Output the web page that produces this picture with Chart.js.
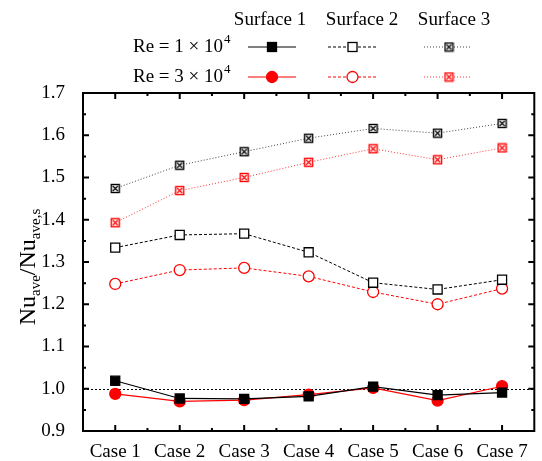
<!DOCTYPE html>
<html>
<head>
<meta charset="utf-8">
<script src="https://cdn.jsdelivr.net/npm/chart.js@4/dist/chart.umd.min.js"></script>
<style>
  body { margin: 0; background: #fff; }
  #wrap { width: 542px; height: 461px; }
</style>
</head>
<body>
<div id="wrap"><canvas id="myChart"></canvas></div>
<script>
var cases = ['Case 1', 'Case 2', 'Case 3', 'Case 4', 'Case 5', 'Case 6', 'Case 7'];
var yTicks = [0.9, 1.0, 1.1, 1.2, 1.3, 1.4, 1.5, 1.6, 1.7];

// Re = 1e4 (black) and Re = 3e4 (red), three surfaces
var s1Re1 = [1.019, 0.977, 0.976, 0.982, 1.005, 0.985, 0.991];
var s1Re3 = [0.988, 0.970, 0.973, 0.986, 1.002, 0.972, 1.006];
var s2Re1 = [1.334, 1.364, 1.367, 1.323, 1.251, 1.235, 1.258];
var s2Re3 = [1.248, 1.281, 1.286, 1.266, 1.229, 1.200, 1.237];
var s3Re1 = [1.474, 1.529, 1.561, 1.593, 1.616, 1.605, 1.628];
var s3Re3 = [1.393, 1.469, 1.500, 1.536, 1.568, 1.542, 1.570];
var refLine = 1.0;

var serif = "'Liberation Serif', 'Times New Roman', serif";
var RED = '#ff0000';

// boxed-cross marker for surface 3
function crossBox(color) {
  var c = document.createElement('canvas');
  c.width = 11; c.height = 11;
  var g = c.getContext('2d');
  g.fillStyle = '#fff';
  g.fillRect(1, 1, 9, 9);
  g.strokeStyle = color;
  g.lineWidth = 1.4;
  g.strokeRect(1.5, 1.5, 8, 8);
  g.lineWidth = 1.2;
  g.beginPath();
  g.moveTo(3, 3); g.lineTo(8, 8);
  g.moveTo(8, 3); g.lineTo(3, 8);
  g.stroke();
  return c;
}
var boxBlack = crossBox('#000');
var boxRed = crossBox(RED);

var styles = {
  s1Re1: { color: '#000', dash: [], width: 1.2, point: 'rect', r: 6.4, fill: '#000' },
  s1Re3: { color: RED, dash: [], width: 1.2, point: 'circle', r: 5.5, fill: RED },
  s2Re1: { color: '#000', dash: [3, 2], width: 1, point: 'rect', r: 6.4, fill: '#fff' },
  s2Re3: { color: RED, dash: [3, 2], width: 1, point: 'circle', r: 5.5, fill: '#fff' },
  s3Re1: { color: 'rgba(0,0,0,0.75)', dash: [1, 2], width: 1, point: boxBlack, r: 5.5, fill: '#fff' },
  s3Re3: { color: 'rgba(255,0,0,0.8)', dash: [1, 2], width: 1, point: boxRed, r: 5.5, fill: '#fff' }
};

function ds(label, data, st, mark) {
  return {
    label: label,
    data: data,
    borderColor: st.color,
    borderWidth: st.width,
    borderDash: st.dash,
    pointStyle: st.point,
    pointRadius: st.r,
    pointHoverRadius: st.r,
    pointBackgroundColor: st.fill,
    pointBorderColor: mark,
    pointBorderWidth: 1.3,
    tension: 0,
    fill: false
  };
}

// frame, inward ticks, reference line
var framePlugin = {
  id: 'frame',
  beforeDatasetsDraw: function(chart) {
    var ctx = chart.ctx, a = chart.chartArea;
    var y = chart.scales.y;
    var py = Math.round(y.getPixelForValue(refLine)) + 0.5;
    ctx.save();
    ctx.strokeStyle = '#000';
    ctx.lineWidth = 1;
    ctx.setLineDash([2, 2]);
    ctx.beginPath();
    ctx.moveTo(a.left, py); ctx.lineTo(a.right, py);
    ctx.stroke();
    ctx.restore();
  },
  afterDraw: function(chart) {
    var ctx = chart.ctx, a = chart.chartArea;
    var x = chart.scales.x, y = chart.scales.y;
    ctx.save();
    ctx.strokeStyle = '#000';
    ctx.lineWidth = 2;
    ctx.strokeRect(a.left, a.top, a.right - a.left, a.bottom - a.top);
    ctx.beginPath();
    yTicks.forEach(function(v, i) {
      var p = y.getPixelForValue(v);
      ctx.moveTo(a.left, p); ctx.lineTo(a.left + 6, p);
      ctx.moveTo(a.right, p); ctx.lineTo(a.right - 6, p);
      if (i < yTicks.length - 1) {
        var m = y.getPixelForValue(v + 0.05);
        ctx.moveTo(a.left, m); ctx.lineTo(a.left + 3, m);
        ctx.moveTo(a.right, m); ctx.lineTo(a.right - 3, m);
      }
    });
    cases.forEach(function(c, i) {
      var p = x.getPixelForValue(i);
      ctx.moveTo(p, a.bottom); ctx.lineTo(p, a.bottom - 6);
      ctx.moveTo(p, a.top); ctx.lineTo(p, a.top + 6);
      if (i < cases.length - 1) {
        var m = (p + x.getPixelForValue(i + 1)) / 2;
        ctx.moveTo(m, a.bottom); ctx.lineTo(m, a.bottom - 3);
        ctx.moveTo(m, a.top); ctx.lineTo(m, a.top + 3);
      }
    });
    ctx.stroke();

    // y axis title with subscripts
    var parts = [['Nu', 24, 0], ['ave', 15, 5], ['/', 24, 0], ['Nu', 24, 0], ['ave,s', 15, 5]];
    var total = 0;
    parts.forEach(function(p) { ctx.font = p[1] + 'px ' + serif; total += ctx.measureText(p[0]).width; });
    ctx.translate(35, (a.top + a.bottom) / 2 + 5);
    ctx.rotate(-Math.PI / 2);
    ctx.fillStyle = '#000';
    ctx.textBaseline = 'alphabetic';
    var cx = -total / 2;
    parts.forEach(function(p) {
      ctx.font = p[1] + 'px ' + serif;
      ctx.fillText(p[0], cx, p[2]);
      cx += ctx.measureText(p[0]).width;
    });
    ctx.restore();
  }
};

function drawMark(ctx, st, mx, my, stroke) {
  ctx.save();
  ctx.setLineDash([]);
  ctx.lineWidth = 1.3;
  ctx.strokeStyle = stroke;
  ctx.fillStyle = st.fill;
  if (st.point === 'rect') {
    ctx.fillRect(mx - 4.5, my - 4.5, 9, 9);
    ctx.strokeRect(mx - 4.5, my - 4.5, 9, 9);
  } else if (st.point === 'circle') {
    ctx.beginPath();
    ctx.arc(mx, my, st.r, 0, Math.PI * 2);
    ctx.fill(); ctx.stroke();
  } else {
    ctx.drawImage(st.point, mx - 5.5, my - 5.5);
  }
  ctx.restore();
}

// custom legend table above the plot
var legendPlugin = {
  id: 'tableLegend',
  afterDraw: function(chart) {
    var ctx = chart.ctx;
    ctx.save();
    ctx.fillStyle = '#000';
    ctx.font = '19px ' + serif;
    ctx.textBaseline = 'middle';
    ctx.textAlign = 'center';
    var cols = [270, 362, 454];
    ['Surface 1', 'Surface 2', 'Surface 3'].forEach(function(t, i) { ctx.fillText(t, cols[i], 20); });

    var rows = [{ y: 47, n: '1', keys: ['s1Re1', 's2Re1', 's3Re1'], c: '#000' },
                { y: 77, n: '3', keys: ['s1Re3', 's2Re3', 's3Re3'], c: RED }];
    var lineX = [[248, 296, 272], [328, 377, 352.5], [424, 472, 449]];
    rows.forEach(function(r) {
      ctx.textAlign = 'left';
      ctx.font = '19px ' + serif;
      var base = 'Re = ' + r.n + ' \u00d7 10';
      ctx.fillText(base, 133, r.y);
      var w = ctx.measureText(base).width;
      ctx.font = '13px ' + serif;
      ctx.fillText('4', 133 + w + 1, r.y - 7);
      r.keys.forEach(function(k, i) {
        var st = styles[k];
        ctx.save();
        ctx.strokeStyle = st.color;
        ctx.lineWidth = st.width;
        ctx.setLineDash(st.dash);
        ctx.beginPath();
        ctx.moveTo(lineX[i][0], r.y); ctx.lineTo(lineX[i][1], r.y);
        ctx.stroke();
        ctx.restore();
        drawMark(ctx, st, lineX[i][2], r.y, r.c);
      });
    });
    ctx.restore();
  }
};

var data = {
  labels: cases,
  datasets: [
    ds('Surface 1, Re = 1e4', s1Re1, styles.s1Re1, '#000'),
    ds('Surface 1, Re = 3e4', s1Re3, styles.s1Re3, RED),
    ds('Surface 2, Re = 1e4', s2Re1, styles.s2Re1, '#000'),
    ds('Surface 2, Re = 3e4', s2Re3, styles.s2Re3, RED),
    ds('Surface 3, Re = 1e4', s3Re1, styles.s3Re1, '#000'),
    ds('Surface 3, Re = 3e4', s3Re3, styles.s3Re3, RED)
  ]
};

var options = {
  responsive: true,
  maintainAspectRatio: false,
  animation: false,
  layout: { padding: { top: 93, right: 1, left: 0, bottom: 0 } },
  scales: {
    x: {
      type: 'category',
      offset: true,
      grid: { display: false },
      border: { display: false },
      ticks: { color: '#000', font: { family: serif, size: 19 }, padding: 2, maxRotation: 0 },
      afterFit: function(scale) { scale.height = 30; }
    },
    y: {
      min: 0.9,
      max: 1.7,
      grid: { display: false },
      border: { display: false },
      ticks: {
        stepSize: 0.1,
        color: '#000',
        font: { family: serif, size: 19 },
        padding: 10,
        callback: function(value) { return value.toFixed(1); }
      },
      afterFit: function(scale) { scale.width = 83; }
    }
  },
  plugins: {
    legend: { display: false },
    tooltip: { enabled: false }
  }
};

var ctx = document.getElementById('myChart').getContext('2d');
var lineChart = new Chart(ctx, {
  type: 'line',
  data: data,
  options: options,
  plugins: [framePlugin, legendPlugin]
});
</script>
</body>
</html>
